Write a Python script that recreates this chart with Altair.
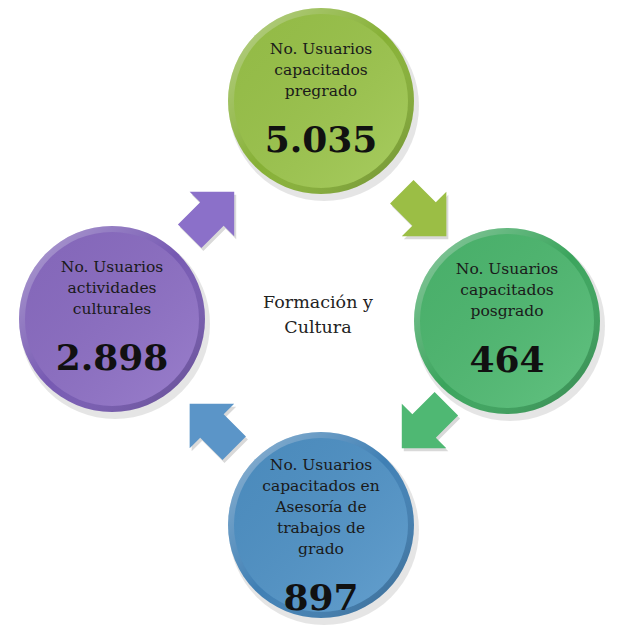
import math
import altair as alt
import pandas as pd

# ---------------- data ----------------
labels = [
    ["No. Usuarios", "capacitados", "pregrado"],
    ["No. Usuarios", "capacitados", "posgrado"],
    ["No. Usuarios", "capacitados en", "Asesoría de", "trabajos de", "grado"],
    ["No. Usuarios", "actividades", "culturales"],
]
values = [5035, 464, 897, 2898]
center_title = ["Formación y", "Cultura"]

# ---------------- styles ----------------
face_colors = ["#9CC64A", "#4DBA70", "#4F93C8", "#8C6DC5"]
rim_colors = ["#86B035", "#3AA45C", "#3F7FB4", "#7659B2"]
arrow_colors = ["#9BBE45", "#4FB873", "#5B95C8", "#8B70C9"]

# layout (pixel space of the page)
CX, CY = 318, 317
node_pos = [(321, 98), (507, 318), (321, 522), (112, 316)]
R = 93
R_FACE = 87
LINE_H = 21
NUM_GAP = 50
ARROW_R = 150
arrow_dirs = [(1, -1), (1, 1), (-1, 1), (-1, -1)]
arrow_angles = [45, 135, 225, 315]


def fmt(v):
    return f"{v:,}".replace(",", ".")


nodes = pd.DataFrame({
    "x": [p[0] for p in node_pos],
    "y": [p[1] for p in node_pos],
    "face": face_colors,
    "rim": rim_colors,
})
shadow = nodes.assign(x=nodes.x + 3, y=nodes.y + 5)

label_rows = []
num_rows = []
for (nx, ny), lines, v in zip(node_pos, labels, values):
    n = len(lines)
    top = ny - 52 - (n - 3) * 4
    for i, t in enumerate(lines):
        label_rows.append({"x": nx, "y": top + i * LINE_H, "t": t})
    num_rows.append({"x": nx, "y": top + (n - 1) * LINE_H + NUM_GAP, "t": fmt(v)})
label_df = pd.DataFrame(label_rows)
num_df = pd.DataFrame(num_rows)

title_df = pd.DataFrame({
    "x": [CX, CX],
    "y": [CY - 17 + 25 * i for i in range(len(center_title))],
    "t": center_title,
})

arrows = pd.DataFrame({
    "x": [CX + ARROW_R / math.sqrt(2) * d[0] for d in arrow_dirs],
    "y": [CY + ARROW_R / math.sqrt(2) * d[1] for d in arrow_dirs],
    "angle": arrow_angles,
    "c": arrow_colors,
})
arrow_shadow = arrows.assign(x=arrows.x + 2, y=arrows.y + 3)

X = alt.X("x:Q", scale=alt.Scale(domain=[8, 618]), axis=None)
Y = alt.Y("y:Q", scale=alt.Scale(domain=[8, 621], reverse=True), axis=None)

# vega symbol size: circle diameter = sqrt(size)
area = (2 * R) ** 2
area_face = (2 * R_FACE) ** 2
ARROW_SIZE = 4400

ARROW_PATH = "M -0.95 -0.5 L 0.0 -0.5 L 0.0 -0.95 L 0.95 0 L 0.0 0.95 L 0.0 0.5 L -0.95 0.5 Z"

shadow_layer = alt.Chart(shadow).mark_circle(
    size=(2 * R + 4) ** 2, color="#000000", opacity=0.10
).encode(x=X, y=Y)

rim_layer = alt.Chart(nodes).mark_circle(size=area, opacity=1).encode(
    x=X, y=Y, color=alt.Color("rim:N", scale=None)
)
rim_overlay = alt.Chart(nodes).mark_circle(
    size=area, opacity=1,
    fill={"gradient": "linear", "x1": 0, "y1": 0, "x2": 1, "y2": 1,
          "stops": [{"offset": 0, "color": "rgba(255,255,255,0.45)"},
                    {"offset": 0.5, "color": "rgba(255,255,255,0.0)"},
                    {"offset": 1, "color": "rgba(0,0,0,0.25)"}]},
).encode(x=X, y=Y)

face_layer = alt.Chart(nodes).mark_circle(size=area_face, opacity=1).encode(
    x=X, y=Y, color=alt.Color("face:N", scale=None)
)
face_overlay = alt.Chart(nodes).mark_circle(
    size=area_face, opacity=1,
    fill={"gradient": "linear", "x1": 0, "y1": 0, "x2": 1, "y2": 1,
          "stops": [{"offset": 0, "color": "rgba(0,0,0,0.06)"},
                    {"offset": 1, "color": "rgba(255,255,255,0.12)"}]},
).encode(x=X, y=Y)

arrow_shadow_layer = alt.Chart(arrow_shadow).mark_point(
    shape=ARROW_PATH, filled=True, size=ARROW_SIZE, opacity=0.15, color="#000000", strokeWidth=0
).encode(x=X, y=Y, angle=alt.Angle("angle:Q", scale=None))

arrow_layer = alt.Chart(arrows).mark_point(
    shape=ARROW_PATH, filled=True, size=ARROW_SIZE, opacity=1, strokeWidth=0
).encode(x=X, y=Y, angle=alt.Angle("angle:Q", scale=None),
         color=alt.Color("c:N", scale=None))

label_layer = alt.Chart(label_df).mark_text(
    font="DejaVu Serif", fontSize=15.5, color="#1a1a1a", baseline="middle", align="center"
).encode(x=X, y=Y, text="t:N")

num_layer = alt.Chart(num_df).mark_text(
    font="DejaVu Serif", fontSize=36, fontWeight="bold", color="#111111",
    baseline="middle", align="center"
).encode(x=X, y=Y, text="t:N")

title_layer = alt.Chart(title_df).mark_text(
    font="DejaVu Serif", fontSize=17.5, color="#222222", baseline="middle", align="center"
).encode(x=X, y=Y, text="t:N")

chart = alt.layer(
    shadow_layer, arrow_shadow_layer, arrow_layer, rim_layer, rim_overlay,
    face_layer, face_overlay, label_layer, num_layer, title_layer
).properties(width=610, height=613, padding=0).configure_view(stroke=None)

chart.save("out.html", embed_options={"renderer": "svg", "actions": False})
